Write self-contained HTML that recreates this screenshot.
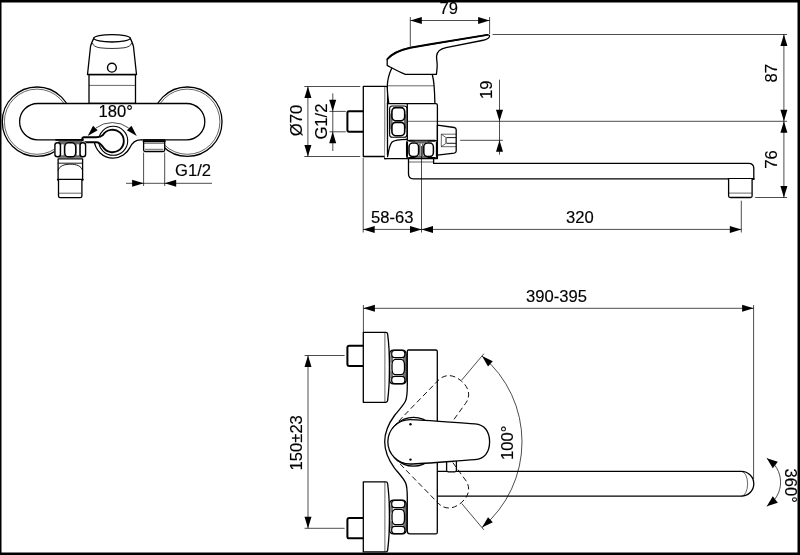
<!DOCTYPE html>
<html><head><meta charset="utf-8"><title>drawing</title>
<style>
html,body{margin:0;padding:0;background:#fff;}
body{width:800px;height:555px;overflow:hidden;position:relative;}
svg{position:absolute;left:0;top:0;display:block;will-change:transform;}
.k{fill:none;stroke:#000;stroke-width:1.3;stroke-linejoin:round;stroke-linecap:round;}
.w{fill:#fff;}
.m2{fill:none;stroke:#000;stroke-width:0.9;}
.t{fill:none;stroke:#000;stroke-width:0.6;}
.d{fill:none;stroke:#000;stroke-width:0.7;}
.dash{fill:none;stroke:#000;stroke-width:0.85;stroke-dasharray:5.5 3.2;}
.a{fill:#000;stroke:none;}
.tx{font-family:"Liberation Sans",Arial,sans-serif;font-size:16.6px;fill:#000;stroke:#000;stroke-width:0.15px;}
</style></head>
<body>
<svg width="800" height="555" viewBox="0 0 800 555">
<rect x="0" y="0" width="800" height="555" fill="#fff"/>
<g id="v1">
<circle class="k" cx="37" cy="121.7" r="34.7"/>
<circle class="t" cx="37" cy="121.7" r="32.6"/>
<circle class="k" cx="187.3" cy="121.7" r="34.7"/>
<circle class="t" cx="187.3" cy="121.7" r="32.6"/>
<path class="k w" d="M89,74.5 V103.5 H135.5 V74.5 Z"/>
<path class="t" d="M89,85.4 H135.5"/>
<path class="k w" d="M93.8,38.2 C92.5,41 91,44 90.5,46.7 L87.5,74.5 H136.5 L133.5,46.7 C133,44 131.5,41 130.3,38.2 Z"/>
<ellipse class="k w" cx="112" cy="38.3" rx="18.2" ry="3.7"/>
<path class="m2" d="M92.4,43 C93,45.8 96,47.2 100,47.8 C108,48.7 116,48.7 124,47.8 C128,47.2 131,45.8 131.6,43" style="stroke-width:0.8"/>
<circle class="k" cx="111.9" cy="67.7" r="4.4" style="stroke-width:1.4"/>
<rect class="k w" x="19.6" y="103.5" width="185.2" height="36.3" rx="18.15"/>
<path class="k w" d="M143.6,140 V150 Q143.6,151.5 145.1,151.5 H163.2 Q164.7,151.5 164.7,150 V140 Z"/>
<path class="k" d="M143.6,141.2 H164.7" style="stroke-width:2"/>
<path class="t" d="M143.6,143.3 H164.7"/>
<path class="t" d="M145,149.3 H163.3"/>
<path d="M84,138.5 H141 V141.5 L130,147.5 L113,157 L95,148 L84,141.5 Z" fill="#fff" stroke="none"/>
<path class="k" d="M84,139.8 H94 C95,150.5 103,158.1 113.2,158.1 C121,158.1 127,153.4 129.7,147.9 C131.5,143.9 134.5,139.8 140.5,139.8 L141,139.8" />
<circle class="k w" cx="113.2" cy="140.8" r="14.5" style="stroke-width:1.1"/>
<path class="k w" d="M84,137.2 H96.5 C99.5,137.2 101.3,136.7 102.8,135.2 A11.3,11.3 0 1 1 102.8,146.8 C101.3,144.8 99.5,142.3 96.5,142.3 H84 Q82.3,142.3 82.3,140.8 V138.8 Q82.3,137.2 84,137.2 Z" style="stroke-width:1.9"/>
<rect x="54.3" y="141.2" width="31.8" height="16.4" rx="3.2" fill="#fff" stroke="none"/>
<rect x="58.3" y="140.4" width="24" height="17.4" fill="#666" stroke="none"/>
<path class="k" d="M56,139.8 H83" style="stroke-width:1.7"/>
<rect x="54.9" y="142.8" width="5.5" height="14" rx="2.5" fill="#fff" stroke="#000" stroke-width="1.4"/>
<rect x="80.1" y="142.8" width="5.5" height="14" rx="2.5" fill="#fff" stroke="#000" stroke-width="1.4"/>
<rect x="61.3" y="144.3" width="2.4" height="11" fill="#fff" stroke="none"/>
<rect x="76.7" y="144.3" width="2.4" height="11" fill="#fff" stroke="none"/>
<rect x="64.7" y="142.8" width="11" height="14" rx="3.6" ry="4.6" fill="#fff" stroke="#000" stroke-width="1.4"/>
<path class="k w" d="M58.1,158.9 H82.6 V179.6 H58.1 Z"/>
<path class="m2" d="M58.1,163.2 H82.6"/>
<path class="m2" d="M58.1,170.5 C59.4,166 64,164.2 70.3,164.2 C76.6,164.2 81.3,166 82.6,170.5"/>
<path class="k" d="M57.9,179.8 H82.8" style="stroke-width:1.9"/>
<path class="k w" d="M58.5,180 V196 Q58.5,197.7 60.2,197.7 H80.2 Q81.9,197.7 81.9,196 V180"/>
<path class="t" d="M59,193.2 H81.5"/>
<path class="d" d="M95.9,128 A27.4,27.4 0 0 1 128.7,128"/>
<polygon class="a" points="87.70,136.00 93.04,125.86 97.64,130.31"/>
<polygon class="a" points="136.80,136.00 126.86,130.31 131.46,125.86"/>
<text x="98.6" y="117.1" class="tx">180°</text>
<path class="d" d="M143.6,152.5 V186 M164.7,152.5 V186 M126,183.3 H212"/>
<polygon class="a" points="143.60,183.30 132.10,186.80 132.10,179.80"/>
<polygon class="a" points="164.70,183.30 176.20,179.80 176.20,186.80"/>
<text x="175.1" y="176.4" class="tx">G1/2</text>
</g>
<g id="v2">
<path class="d" d="M304.3,86.5 H360.2 M304.3,156.5 H360.2 M329.5,111.4 H345.8 M329.5,131.8 H345.8"/>
<path class="d" d="M307.9,86.5 V156.5 M332.8,93.4 V151"/>
<polygon class="a" points="307.90,86.50 311.40,98.00 304.40,98.00"/>
<polygon class="a" points="307.90,156.50 304.40,145.00 311.40,145.00"/>
<polygon class="a" points="332.70,111.30 329.20,99.80 336.20,99.80"/>
<polygon class="a" points="332.70,131.70 336.20,143.20 329.20,143.20"/>
<text transform="translate(302.3,136.2) rotate(-90)" class="tx">Ø70</text>
<text transform="translate(326.8,139.6) rotate(-90)" class="tx">G1/2</text>
<path class="k w" d="M363.3,111.3 H349 Q347.4,111.3 347.4,113 V130 Q347.4,131.7 349,131.7 H363.3" style="stroke-width:2"/>
<path class="k w" d="M363.3,86.4 H386 Q387.6,86.4 387.6,88 V155 Q387.6,158.6 386,158.6 L384.6,158.6 V156.5 H363.3 Z"/>
<path class="t" d="M384.8,86.8 V156.5"/>
<path class="k w" d="M391.8,68 C389,74 387.3,80 387.3,86.5 C387.3,92 388,98 388.8,103.6 H434.9 C434.8,98 434.6,92 434.1,86 C433.8,82 433.2,78 432.3,74.5 Z"/>
<path class="t" d="M387.3,85.8 H434.1"/>
<path class="k w" d="M387.2,59.3 C392,53.4 401,49.8 410.3,47.7 C436,43.2 462,39 487.3,34.9 C489.4,34.6 490,35.6 489.3,37 C488.3,38.9 486.5,39.6 482,40.5 L446,47.7 C440,49 437,51.8 436.6,56 C436.3,59 437.3,62 437.2,65.4 C437.1,68.5 436.8,71.5 436.4,74.3 H405.4 C399,72 393,68.5 387.2,65.4 Z"/>
<path class="k" d="M387.4,59 C392,53.4 401,49.8 410.3,47.7 C436,43.2 462,39 487.3,34.9" style="stroke-width:1.9"/>
<path class="k w" d="M387.6,103.6 H435.7 Q437.4,103.6 437.4,105.3 V158.6 H384.6"/>
<path class="k" d="M407.3,103.6 V140"/>
<path class="k" d="M387.5,103.6 V155"/>
<path class="t" d="M407.3,121.3 H437.4"/>
<path class="k" d="M387.6,156.5 C388.6,150 389.3,145.3 391.8,142.3 C394.3,139.8 398,139.3 407.3,139.3"/>
<rect x="389.6" y="106" width="17.3" height="31.3" rx="2.8" fill="#fff" stroke="#000" stroke-width="1.1"/>
<path d="M390.2,113 L392.6,117 V126 L390.2,130 Z M406.3,113 L403.9,117 V126 L406.3,130 Z" fill="#666"/>
<rect x="391.9" y="107.6" width="12.8" height="13.2" rx="3.8" ry="4.2" fill="#fff" stroke="#000" stroke-width="1.6"/>
<rect x="391.9" y="122.4" width="12.8" height="13.4" rx="3.8" ry="4.2" fill="#fff" stroke="#000" stroke-width="1.6"/>
<path class="k w" d="M437.4,125.1 L454.2,127.5 Q456.2,127.9 456.2,129.8 V151 Q456.2,152.8 454.2,153.1 L437.4,155.2 Z"/>
<path class="t" d="M441.3,134.2 H456 M441.3,146.7 H456 M441.3,134.2 V146.7 M441.3,134.2 L446,137.6 M441.3,146.7 L446,143.3"/>
<path class="m2" d="M456,137.6 H447 Q446,137.6 446,138.6 V142.3 Q446,143.3 447,143.3 H456"/>
<path class="k w" d="M408.5,158.6 V174 Q408.5,178.8 413.3,178.8 H753.8 V168.6 Q753.8,163.4 748.6,163.4 H433.6 V158.6 Z" />
<path class="k" d="M728.6,179 H753.8" style="stroke-width:1.8"/>
<path class="t" d="M408.5,162 H433.6"/>
<path class="k w" d="M728.6,179 V196 Q728.6,197.5 730.2,197.5 H750.5 Q752.1,197.5 752.1,196 V179"/>
<path class="t" d="M729,193.1 H751.8"/>
<rect x="406.5" y="140.2" width="30.9" height="18.2" rx="2.8" fill="#fff" stroke="#000" stroke-width="1.1"/>
<path class="k" d="M409,141 H435 M409,157.7 H435" style="stroke-width:1.5"/>
<path d="M414,140.8 L418,143.6 H424.5 L428.5,140.8 Z M414,157.9 L418,155.9 H424.5 L428.5,157.9 Z" fill="#666"/>
<path class="k" d="M407.4,142.5 V156.3 M436.5,142.5 V156.3" style="stroke-width:1.3"/>
<rect x="409" y="143.1" width="9.6" height="13.5" rx="3.6" ry="4" fill="#fff" stroke="#000" stroke-width="1.5"/>
<rect x="423.8" y="143.1" width="9.6" height="13.5" rx="3.6" ry="4" fill="#fff" stroke="#000" stroke-width="1.5"/>
<path class="k" d="M419.9,144 V155.6 M422.8,144 V155.6" style="stroke-width:0.9"/>
<path class="d" d="M421.5,146 V232.5 M363.2,158 V232.5 M741.3,200.7 V232.5 M363.2,229.4 H741.3"/>
<polygon class="a" points="363.20,229.40 374.70,225.90 374.70,232.90"/>
<polygon class="a" points="421.50,229.40 410.00,232.90 410.00,225.90"/>
<polygon class="a" points="421.50,229.40 433.00,225.90 433.00,232.90"/>
<polygon class="a" points="741.30,229.40 729.80,232.90 729.80,225.90"/>
<text x="371" y="222.8" class="tx">58-63</text>
<text x="566" y="222.5" class="tx">320</text>
<path class="d" d="M410.3,17 V46.5 M489.6,17 V34 M410.3,20.5 H489.6"/>
<polygon class="a" points="410.30,20.50 421.80,17.00 421.80,24.00"/>
<polygon class="a" points="489.60,20.50 478.10,24.00 478.10,17.00"/>
<text x="439.5" y="14" class="tx">79</text>
<path class="d" d="M492.6,34.5 H787 M438,121.3 H787 M755.2,197.5 H787 M783.9,34.5 V197.5 M460.2,140.3 H502.8 M499.5,79.7 V154.6"/>
<polygon class="a" points="783.90,34.50 787.40,46.00 780.40,46.00"/>
<polygon class="a" points="783.90,121.30 780.40,109.80 787.40,109.80"/>
<polygon class="a" points="783.90,121.30 787.40,132.80 780.40,132.80"/>
<polygon class="a" points="783.90,197.50 780.40,186.00 787.40,186.00"/>
<polygon class="a" points="499.50,121.30 496.00,109.80 503.00,109.80"/>
<polygon class="a" points="499.50,140.30 503.00,151.80 496.00,151.80"/>
<text transform="translate(492.4,99) rotate(-90)" class="tx">19</text>
<text transform="translate(777.3,82.6) rotate(-90)" class="tx">87</text>
<text transform="translate(777.3,168.8) rotate(-90)" class="tx">76</text>
</g>
<g id="v3">
<path class="d" d="M363.4,305 V332 M753.6,305 V479 M363.4,308.3 H753.6"/>
<polygon class="a" points="363.40,308.30 374.90,304.80 374.90,311.80"/>
<polygon class="a" points="753.60,308.30 742.10,311.80 742.10,304.80"/>
<text x="526" y="301.8" class="tx">390-395</text>
<path class="d" d="M304.6,355.5 H344.6 M304.6,528.3 H344.6 M308,355.5 V528.3"/>
<polygon class="a" points="308.00,355.50 311.50,367.00 304.50,367.00"/>
<polygon class="a" points="308.00,528.30 304.50,516.80 311.50,516.80"/>
<text transform="translate(302,470.4) rotate(-90)" class="tx">150±23</text>
<path class="k w" d="M437.3,471.4 H741.4 A12.4,12.4 0 0 1 741.4,496.2 H437.3"/>
<path class="t" d="M741.4,471.4 A6.2,12.4 0 0 1 741.4,496.2"/>
<path class="k w" d="M363.3,345.7 H349.3 Q347.4,345.7 347.4,347.6 V364.0 Q347.4,365.9 349.3,365.9 H363.3" style="stroke-width:2"/>
<path class="k w" d="M363.3,332.3 H385.8 Q387.4,332.3 387.6,333.9 C389,344.3 389.5,356.3 389.5,367.3 C389.5,378.3 389,390.3 387.6,400.7 Q387.4,402.3 385.8,402.3 H363.3 Z"/>
<path class="t" d="M384.9,332.6 V402.0"/>
<path class="k w" d="M363.3,518.1 H349.3 Q347.4,518.1 347.4,520.0 V536.4 Q347.4,538.3 349.3,538.3 H363.3" style="stroke-width:2"/>
<path class="k w" d="M363.3,481.9 H385.8 Q387.4,481.9 387.6,483.5 C389,493.9 389.5,505.9 389.5,516.9 C389.5,527.9 389,539.9 387.6,550.3 Q387.4,551.9 385.8,551.9 H363.3 Z"/>
<path class="t" d="M384.9,482.2 V551.6"/>
<path class="k w" d="M408.5,350 H435.8 Q437.3,350 437.3,351.5 V532.4 Q437.3,533.9 435.8,533.9 H410 Q407.3,533.9 407.3,531 V498.6 C407.3,490.6 407,485.6 405.5,482.6 C403,477.6 398,472.6 394.5,468.1 C389,460.6 384.7,452.6 384.7,441.8 C384.7,431 389,423 394.5,415.5 C398,411 403,406 405.5,401 C407,398 407.3,393 407.3,385 V351.2 Q407.3,350 408.5,350 Z"/>
<rect class="k w" x="389.6" y="350.2" width="16.5" height="33.6" rx="3.6" style="stroke-width:1.4"/>
<path d="M390.3,356.2 L393,355.2 L393,361.2 L390.3,363.2 Z M405.4,356.2 L402.7,355.2 L402.7,361.2 L405.4,363.2 Z M390.3,377.8 L393,378.8 L393,372.8 L390.3,370.8 Z M405.4,377.8 L402.7,378.8 L402.7,372.8 L405.4,370.8 Z" fill="#777"/>
<rect class="k w" x="391.7" y="350.3" width="13.1" height="7.4" rx="3" style="stroke-width:1.2"/>
<rect class="k w" x="392" y="359.3" width="12.5" height="15.4" rx="3.6" ry="5.5" style="stroke-width:1.3"/>
<rect class="k w" x="391.7" y="376.3" width="13.1" height="7.4" rx="3" style="stroke-width:1.2"/>
<rect class="k w" x="389.6" y="500.2" width="16.5" height="33.6" rx="3.6" style="stroke-width:1.4"/>
<path d="M390.3,506.2 L393,505.2 L393,511.2 L390.3,513.2 Z M405.4,506.2 L402.7,505.2 L402.7,511.2 L405.4,513.2 Z M390.3,527.8 L393,528.8 L393,522.8 L390.3,520.8 Z M405.4,527.8 L402.7,528.8 L402.7,522.8 L405.4,520.8 Z" fill="#777"/>
<rect class="k w" x="391.7" y="500.3" width="13.1" height="7.4" rx="3" style="stroke-width:1.2"/>
<rect class="k w" x="392" y="509.3" width="12.5" height="15.4" rx="3.6" ry="5.5" style="stroke-width:1.3"/>
<rect class="k w" x="391.7" y="526.3" width="13.1" height="7.4" rx="3" style="stroke-width:1.2"/>
<path class="k w" d="M446.6,461 V470.3 Q446.6,471.8 448.1,471.8 H454.9 Q456.4,471.8 456.4,470.3 V461"/>
<path class="dash" d="M410.0,419.6 C425,419.9 452,422.4 475,423.9 C484.5,424.6 489.6,431.5 489.6,441.8 C489.6,452.1 484.5,459 475,459.7 C452,461.2 425,463.7 410.0,464.0" transform="rotate(-50 410.0 441.8)"/>
<path class="dash" d="M410.0,419.6 C425,419.9 452,422.4 475,423.9 C484.5,424.6 489.6,431.5 489.6,441.8 C489.6,452.1 484.5,459 475,459.7 C452,461.2 425,463.7 410.0,464.0" transform="rotate(50 410.0 441.8)"/>
<circle class="k w" cx="413.5" cy="441.8" r="24.4"/>
<path class="k w" d="M410.0,464.0 A22.2,22.2 0 0 1 410.0,419.6 C425,419.9 452,422.4 475,423.9 C484.5,424.6 489.6,431.5 489.6,441.8 C489.6,452.1 484.5,459 475,459.7 C452,461.2 425,463.7 410.0,464.0 Z"/>
<circle cx="410.5" cy="424.2" r="1.2" fill="#000"/><circle cx="410.5" cy="459.6" r="1.2" fill="#000"/>
<path class="d" d="M461.7,380.1 L483.9,353.7"/>
<path class="d" d="M461.7,503.5 L483.9,529.9"/>
<path class="d" d="M481.99,356.00 A112,112 0 0 1 481.99,527.60"/>
<polygon class="a" points="481.99,356.00 492.79,361.29 488.02,366.41"/>
<polygon class="a" points="481.99,527.60 488.02,517.19 492.79,522.31"/>
<text transform="translate(513.2,460) rotate(-90)" class="tx">100°</text>
<path class="d" d="M766.8,458.3 A27.7,27.7 0 0 1 766.8,506.2"/>
<polygon class="a" points="766.80,458.30 777.83,461.72 772.79,468.18"/>
<polygon class="a" points="766.80,506.20 772.79,496.32 777.83,502.78"/>
<text transform="translate(785.3,468.5) rotate(90)" class="tx">360°</text>
</g>
<path d="M0,0 H800 V555 H0 Z M1.5,2.5 V552.5 H797.5 V2.5 Z" fill="#000" fill-rule="evenodd"/>
</svg>
</body></html>
